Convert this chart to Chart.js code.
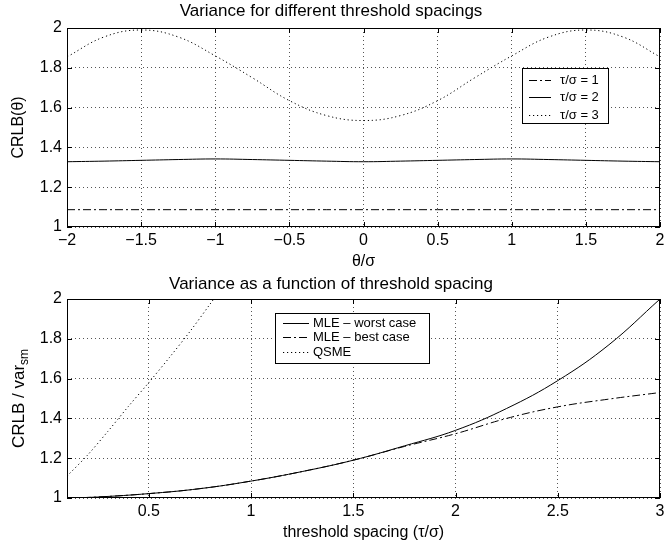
<!DOCTYPE html>
<html><head><meta charset="utf-8">
<script src="https://cdn.jsdelivr.net/npm/chart.js@4"></script>
<style>
html,body{margin:0;padding:0;background:#fff;}
#c1{position:absolute;left:0;top:0;}
#c2{position:absolute;left:0;top:270px;}
</style></head><body>
<canvas id="c1" width="668" height="270"></canvas>
<canvas id="c2" width="668" height="279"></canvas>
<script>
// ---------- top chart data ----------
const thetaValues = [-2,-1.75,-1.5,-1.25,-1,-0.75,-0.5,-0.25,0,0.25,0.5,0.75,1,1.25,1.5,1.75,2];
const crlbTau1 = [1.087,1.087,1.087,1.087,1.087,1.087,1.087,1.087,1.087,1.087,1.087,1.087,1.087,1.087,1.087,1.087,1.087];
const crlbTau2 = [1.328,1.331,1.335,1.339,1.342,1.339,1.335,1.331,1.328,1.331,1.335,1.339,1.342,1.339,1.335,1.331,1.328];
const crlbTau3 = [1.855,1.955,1.99,1.955,1.86,1.75,1.635,1.56,1.535,1.56,1.635,1.75,1.86,1.955,1.99,1.955,1.855];
const topLabels = ['τ/σ = 1','τ/σ = 2','τ/σ = 3'];
const thetaTicks = [-2,-1.5,-1,-0.5,0,0.5,1,1.5,2];
const thetaTickLabels = ['−2','−1.5','−1','−0.5','0','0.5','1','1.5','2'];
const crlbTicks = [1,1.2,1.4,1.6,1.8,2];
const crlbTickLabels = ['1','1.2','1.4','1.6','1.8','2'];

// ---------- bottom chart data ----------
const tauValues = [0.1,0.25,0.5,0.75,1,1.25,1.5,1.75,2,2.25,2.5,2.75,3];
const mleWorst = [1.0,1.005,1.022,1.047,1.085,1.133,1.19,1.262,1.34,1.45,1.59,1.77,2.0];
const mleBest  = [1.0,1.005,1.022,1.047,1.085,1.133,1.19,1.259,1.323,1.40,1.458,1.497,1.53];
const qsmeTau = [0.1,0.2,0.3,0.4,0.5,0.6,0.7,0.8,0.9];
const qsmeValues = [1.11,1.215,1.335,1.46,1.58,1.705,1.835,1.975,2.12];
const bottomLabels = ['MLE – worst case','MLE – best case','QSME'];
const spacingTicks = [0.5,1,1.5,2,2.5,3];
const spacingTickLabels = ['0.5','1','1.5','2','2.5','3'];
const ratioTicks = [1,1.2,1.4,1.6,1.8,2];
const ratioTickLabels = ['1','1.2','1.4','1.6','1.8','2'];

const FAM = "'Liberation Sans', Arial, Helvetica, sans-serif";
const DASHDOT = [8,3,2,3];
const DOT = [1.2,2.8];

function pts(xs, ys){ return xs.map((x,i)=>({x:x, y:ys[i]})); }

const boxPlugin = {
  id:'boxPlugin',
  afterDraw(chart){
    const {ctx, chartArea:a, scales} = chart;
    ctx.save();
    ctx.strokeStyle='#000'; ctx.lineWidth=1; ctx.setLineDash([]);
    ctx.strokeRect(Math.round(a.left)+0.5, Math.round(a.top)+0.5, Math.round(a.right-a.left)-1, Math.round(a.bottom-a.top)-1);
    const L=5;
    ctx.beginPath();
    scales.x.ticks.forEach(t=>{
      const px = Math.round(scales.x.getPixelForValue(t.value))+0.5;
      ctx.moveTo(px,a.bottom); ctx.lineTo(px,a.bottom-L);
      ctx.moveTo(px,a.top); ctx.lineTo(px,a.top+L);
    });
    scales.y.ticks.forEach(t=>{
      const py = Math.round(scales.y.getPixelForValue(t.value))+0.5;
      ctx.moveTo(a.left,py); ctx.lineTo(a.left+L,py);
      ctx.moveTo(a.right,py); ctx.lineTo(a.right-L,py);
    });
    ctx.stroke();
    ctx.restore();
  }
};

function legendPlugin(box){
  return {
    id:'boxLegend',
    afterDraw(chart){
      const ctx = chart.ctx;
      ctx.save();
      ctx.fillStyle='#fff';
      ctx.fillRect(box.x0, box.y0, box.x1-box.x0, box.y1-box.y0);
      ctx.strokeStyle='#000'; ctx.lineWidth=1; ctx.setLineDash([]);
      ctx.strokeRect(box.x0+0.5, box.y0+0.5, box.x1-box.x0, box.y1-box.y0);
      ctx.font = box.font + 'px ' + FAM;
      ctx.textBaseline='middle'; ctx.fillStyle='#000';
      chart.data.datasets.forEach((ds,i)=>{
        const y = Math.round(box.rows[i])+0.5;
        ctx.beginPath();
        ctx.setLineDash(ds.borderDash || []);
        ctx.moveTo(box.s0, y); ctx.lineTo(box.s1, y);
        ctx.stroke();
        ctx.setLineDash([]);
        ctx.fillText(ds.label, box.tx, y);
      });
      ctx.restore();
    }
  };
}

function axisCfg(ticks, labels, min, max, fitKey, fitVal, titleCfg){
  return {
    type:'linear', min:min, max:max,
    afterBuildTicks: s=>{ s.ticks = ticks.map(v=>({value:v})); },
    afterFit: s=>{ s[fitKey] = fitVal; },
    ticks:{ color:'#000', font:{family:FAM,size:16}, padding: fitKey==='width'?5:3.5,
      autoSkip:false, maxRotation:0, minRotation:0,
      callback:(v)=>{ const i = ticks.indexOf(v); return i>=0 ? labels[i] : ''; } },
    grid:{ color:'#555', lineWidth:1, drawTicks:false },
    border:{ display:false, dash:[1,3] },
    title: titleCfg
  };
}

// ---------- top chart ----------
new Chart(document.getElementById('c1'), {
  type:'line',
  data:{ datasets:[
    {label:topLabels[0], data:pts(thetaValues,crlbTau1), borderColor:'#000', borderWidth:1, borderDash:DASHDOT, pointRadius:0, tension:0},
    {label:topLabels[1], data:pts(thetaValues,crlbTau2), borderColor:'#000', borderWidth:1, pointRadius:0, tension:0.4},
    {label:topLabels[2], data:pts(thetaValues,crlbTau3), borderColor:'#000', borderWidth:1, borderDash:DOT, pointRadius:0, tension:0.4}
  ]},
  options:{
    responsive:false, animation:false, events:[],
    layout:{ padding:{left:0,right:6,top:0,bottom:0} },
    plugins:{
      legend:{display:false}, tooltip:{enabled:false},
      title:{display:true, text:'Variance for different threshold spacings', color:'#000',
        font:{family:FAM,size:17,weight:'normal',lineHeight:1.2}, padding:{top:1.6,bottom:6}}
    },
    scales:{
      x: axisCfg(thetaTicks, thetaTickLabels, -2, 2, 'height', 43,
        {display:true, text:'θ/σ', color:'#000', font:{family:FAM,size:16,lineHeight:1}, padding:{top:0,bottom:0}}),
      y: axisCfg(crlbTicks, crlbTickLabels, 1, 2, 'width', 67,
        {display:true, text:'CRLB(θ)', color:'#000', font:{family:FAM,size:16,lineHeight:1}, padding:{top:11,bottom:11}})
    }
  },
  plugins:[boxPlugin, legendPlugin({x0:522,y0:68,x1:608,y1:123,rows:[80,97.3,115],s0:529,s1:551,tx:560,font:13})]
});

// ---------- bottom chart ----------
const yLabelPlugin = {
  id:'yLabelSub',
  afterDraw(chart){
    const {ctx, chartArea:a} = chart;
    ctx.save();
    ctx.translate(19, (a.top+a.bottom)/2);
    ctx.rotate(-Math.PI/2);
    ctx.fillStyle='#000'; ctx.textBaseline='middle'; ctx.textAlign='left';
    const main='CRLB / var', sub='sm';
    ctx.font = '17px '+FAM; const w1 = ctx.measureText(main).width;
    ctx.font = '12px '+FAM; const w2 = ctx.measureText(sub).width;
    const x0 = -(w1+w2)/2;
    ctx.font = '17px '+FAM; ctx.fillText(main, x0, 0);
    ctx.font = '12px '+FAM; ctx.fillText(sub, x0+w1, 6);
    ctx.restore();
  }
};

new Chart(document.getElementById('c2'), {
  type:'line',
  data:{ datasets:[
    {label:bottomLabels[0], data:pts(tauValues,mleWorst), borderColor:'#000', borderWidth:1, pointRadius:0, tension:0.4},
    {label:bottomLabels[1], data:pts(tauValues,mleBest), borderColor:'#000', borderWidth:1, borderDash:DASHDOT, pointRadius:0, tension:0.4},
    {label:bottomLabels[2], data:pts(qsmeTau,qsmeValues), borderColor:'#000', borderWidth:1, borderDash:DOT, pointRadius:0, tension:0.3}
  ]},
  options:{
    responsive:false, animation:false, events:[],
    layout:{ padding:{left:0,right:6,top:0,bottom:0} },
    plugins:{
      legend:{display:false}, tooltip:{enabled:false},
      title:{display:true, text:'Variance as a function of threshold spacing', color:'#000',
        font:{family:FAM,size:17,weight:'normal',lineHeight:1.2}, padding:{top:4.6,bottom:4}}
    },
    scales:{
      x: axisCfg(spacingTicks, spacingTickLabels, 0.1, 3, 'height', 51,
        {display:true, text:'threshold spacing (τ/σ)', color:'#000', font:{family:FAM,size:16,lineHeight:1}, padding:{top:8,bottom:8}}),
      y: axisCfg(ratioTicks, ratioTickLabels, 1, 2, 'width', 67, {display:false})
    }
  },
  plugins:[boxPlugin, yLabelPlugin, legendPlugin({x0:275,y0:43,x1:429,y1:93,rows:[53.3,67.3,82.3],s0:283,s1:309,tx:313,font:13})]
});
</script>
</body></html>
